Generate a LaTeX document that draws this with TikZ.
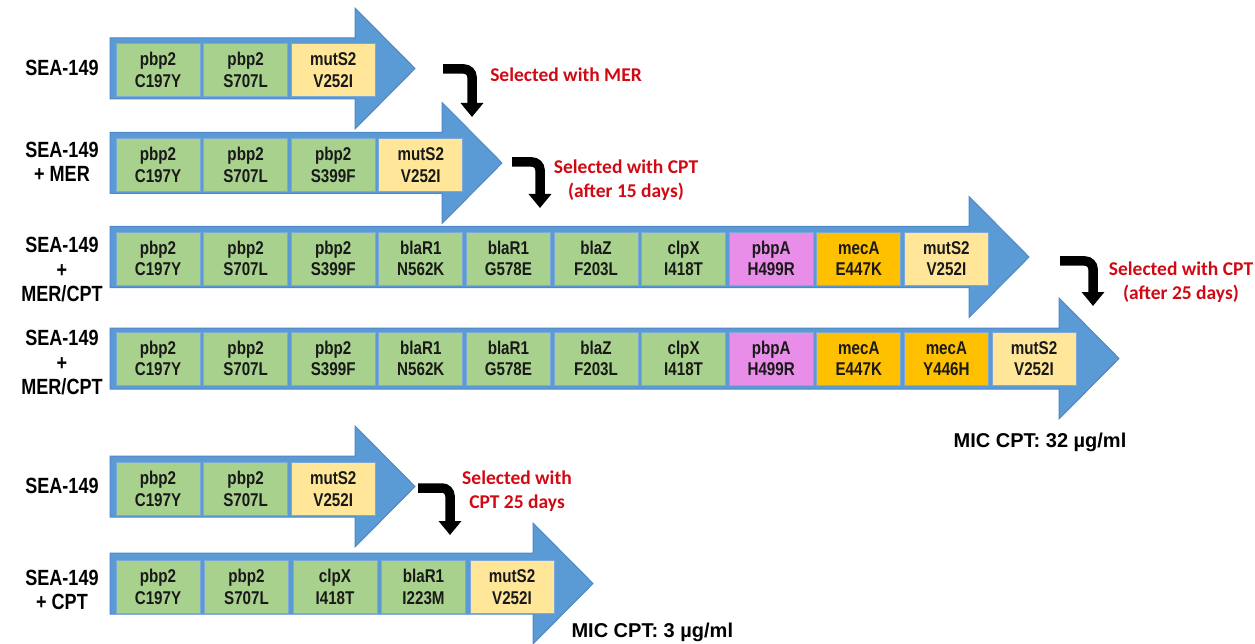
\documentclass[tikz,border=0pt]{standalone}
\usepackage{fontspec}
\setmainfont{Liberation Sans}
\newfontfamily\genefont{Liberation Sans}[FakeStretch=0.82]
\newfontfamily\notefont{Carlito}
\usetikzlibrary{arrows.meta}

\definecolor{arrowblue}{HTML}{5B9BD5}
\definecolor{arrowedge}{HTML}{4F88C6}
\definecolor{boxedge}{HTML}{7DA9DA}
\definecolor{genegreen}{HTML}{A9D18E}
\definecolor{geneyellow}{HTML}{FFE699}
\definecolor{geneorange}{HTML}{FFC000}
\definecolor{genepink}{HTML}{E88DE8}
\definecolor{notered}{HTML}{D00A14}

\begin{document}
\begin{tikzpicture}[x=1pt,y=-1pt]
    \tikzstyle{strain}=[fill=arrowblue,draw=arrowedge,line width=1pt]
    \tikzstyle{gene}=[rectangle,draw=boxedge,line width=0.8pt,minimum width=84pt,minimum height=53pt,inner sep=0pt,align=center,text=black!90,font=\genefont\bfseries\fontsize{18.5}{21.5}\selectfont]
    \tikzstyle{strainname}=[align=center,font=\genefont\bfseries\fontsize{22}{24.5}\selectfont]
    \tikzstyle{note}=[align=center,text=notered,font=\notefont\bfseries\fontsize{19.5}{24}\selectfont]
    \tikzstyle{mic}=[font=\bfseries\fontsize{20}{24}\selectfont]
    \tikzstyle{bent}=[line width=9.5pt,rounded corners=8pt,-{Triangle[width=22pt,length=14pt]}]

    \useasboundingbox (0,0) rectangle (1255,644);

    % big arrows: row / centre y / where the head starts
    \foreach \row/\yc/\hb in {1/68.5/355, 2/163/442, 3/257/969, 4/358.5/1059, 5/486.5/355, 6/583.5/533}
        \draw[strain] (110,\yc-30.5) -- (\hb,\yc-30.5) -- (\hb,\yc-60.5) -- (\hb+60,\yc)
            -- (\hb,\yc+60.5) -- (\hb,\yc+30.5) -- (110,\yc+30.5) -- cycle;

    % mutations, one box each
    \foreach \gene/\mut/\col [count=\i] in {pbp2/C197Y/genegreen, pbp2/S707L/genegreen, mutS2/V252I/geneyellow}
        \node[gene,fill=\col] (r1-\i) at ({158+87.6*(\i-1)},70) {\gene\\\mut};

    \foreach \gene/\mut/\col [count=\i] in {pbp2/C197Y/genegreen, pbp2/S707L/genegreen, pbp2/S399F/genegreen,
            mutS2/V252I/geneyellow}
        \node[gene,fill=\col] (r2-\i) at ({158+87.6*(\i-1)},165) {\gene\\\mut};

    \foreach \gene/\mut/\col [count=\i] in {pbp2/C197Y/genegreen, pbp2/S707L/genegreen, pbp2/S399F/genegreen,
            blaR1/N562K/genegreen, blaR1/G578E/genegreen, blaZ/F203L/genegreen, clpX/I418T/genegreen,
            pbpA/H499R/genepink, mecA/E447K/geneorange, mutS2/V252I/geneyellow}
        \node[gene,fill=\col] (r3-\i) at ({158+87.6*(\i-1)},258.5) {\gene\\\mut};

    \foreach \gene/\mut/\col [count=\i] in {pbp2/C197Y/genegreen, pbp2/S707L/genegreen, pbp2/S399F/genegreen,
            blaR1/N562K/genegreen, blaR1/G578E/genegreen, blaZ/F203L/genegreen, clpX/I418T/genegreen,
            pbpA/H499R/genepink, mecA/E447K/geneorange, mecA/Y446H/geneorange, mutS2/V252I/geneyellow}
        \node[gene,fill=\col] (r4-\i) at ({158+87.6*(\i-1)},358.5) {\gene\\\mut};

    \foreach \gene/\mut/\col [count=\i] in {pbp2/C197Y/genegreen, pbp2/S707L/genegreen, mutS2/V252I/geneyellow}
        \node[gene,fill=\col] (r5-\i) at ({158+87.6*(\i-1)},489) {\gene\\\mut};

    \foreach \gene/\mut/\col [count=\i] in {pbp2/C197Y/genegreen, pbp2/S707L/genegreen, clpX/I418T/genegreen,
            blaR1/I223M/genegreen, mutS2/V252I/geneyellow}
        \node[gene,fill=\col] (r6-\i) at ({158+88.5*(\i-1)},587) {\gene\\\mut};

    % strain names
    \node[strainname] (s1) at (62,68) {SEA-149};
    \node[strainname] (s2) at (62,162) {SEA-149\\+ MER};
    \node[strainname] (s3) at (62,270) {SEA-149\\+\\MER/CPT};
    \node[strainname] (s4) at (62,363) {SEA-149\\+\\MER/CPT};
    \node[strainname] (s5) at (62,486) {SEA-149};
    \node[strainname] (s6) at (62,590) {SEA-149\\+ CPT};

    % selection steps
    \coordinate (k1a) at (443,69);   \coordinate (k1b) at (472,117);
    \coordinate (k2a) at (512,162);  \coordinate (k2b) at (540,208);
    \coordinate (k3a) at (1060,261); \coordinate (k3b) at (1093,306);
    \coordinate (k4a) at (418,488);  \coordinate (k4b) at (450,535);
    \foreach \k in {1,...,4}
        \draw[bent] (k\k a) -| (k\k b);

    \node[note] (n1) at (566,75) {Selected with MER};
    \node[note] (n2) at (626,180) {Selected with CPT\\(after 15 days)};
    \node[note] (n3) at (1181,282) {Selected with CPT\\(after 25 days)};
    \node[note] (n4) at (517,491) {Selected with\\CPT 25 days};

    \node[mic] (m1) at (1040,442) {MIC CPT: 32 µg/ml};
    \node[mic,anchor=west] (m2) at (568,632) {MIC CPT: 3 µg/ml};
\end{tikzpicture}
\end{document}
